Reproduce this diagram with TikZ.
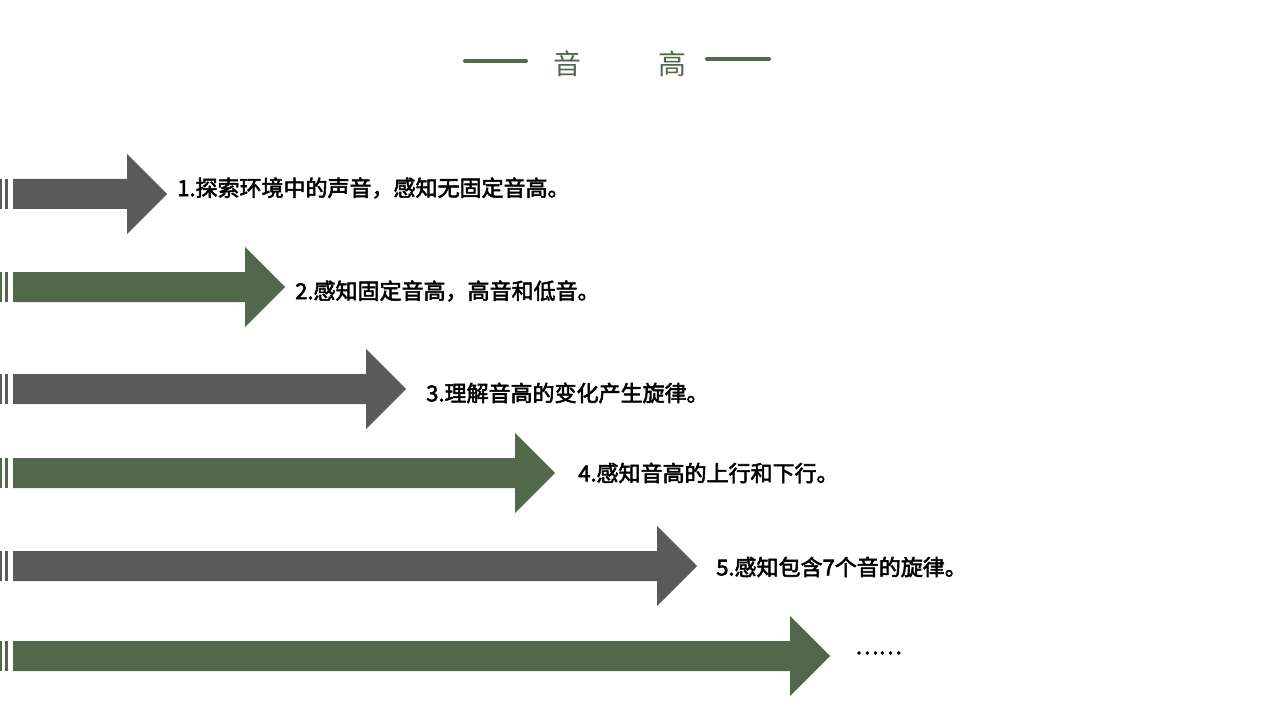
\documentclass[tikz,border=0pt]{standalone}
\usepackage{fontspec}
\newfontfamily\cjk{Noto Sans CJK SC}
\newfontfamily\cjkb{Noto Sans CJK SC}[FakeBold=2.5]
\definecolor{gr}{HTML}{5A5A5A}
\definecolor{gn}{HTML}{51694A}
\begin{document}
\begin{tikzpicture}[x=0.75pt,y=-0.75pt,
  lbl/.style={anchor=west,inner sep=0,font=\cjkb\fontsize{16.5}{18}\selectfont,text=black},
  ttl/.style={inner sep=0,font=\cjk\fontsize{21}{24}\selectfont,text=gn}]
\useasboundingbox (0,0) rectangle (1280,720);
\newcommand\arw[3]{%
  \fill[#3] (0,#2-15) rectangle (2,#2+15);
  \fill[#3] (5,#2-15) rectangle (8,#2+15);
  \fill[#3] (13,#2-15) -- (#1-40,#2-15) -- (#1-40,#2-40) -- (#1,#2) -- (#1-40,#2+40) -- (#1-40,#2+15) -- (13,#2+15) -- cycle;}
\arw{167}{194}{gr}
\arw{285}{287}{gn}
\arw{406}{389}{gr}
\arw{555}{473}{gn}
\arw{697}{566}{gr}
\arw{830}{656}{gn}
\node[lbl] (t1) at (177,188) {1.探索环境中的声音，感知无固定音高。};
\node[lbl] (t2) at (295,291) {2.感知固定音高，高音和低音。};
\node[lbl] (t3) at (426,393) {3.理解音高的变化产生旋律。};
\node[lbl] (t4) at (578,473) {4.感知音高的上行和下行。};
\node[lbl] (t5) at (716,567) {5.感知包含7个音的旋律。};
\node[lbl] (t6) at (855,653) {……};
\node[ttl] (a) at (567,64) {音};
\node[ttl] (b) at (672,64) {高};
\draw[gn,line width=3pt,line cap=round] (465,61) -- (526,61);
\draw[gn,line width=3pt,line cap=round] (707,59) -- (769,59);
\end{tikzpicture}
\end{document}
